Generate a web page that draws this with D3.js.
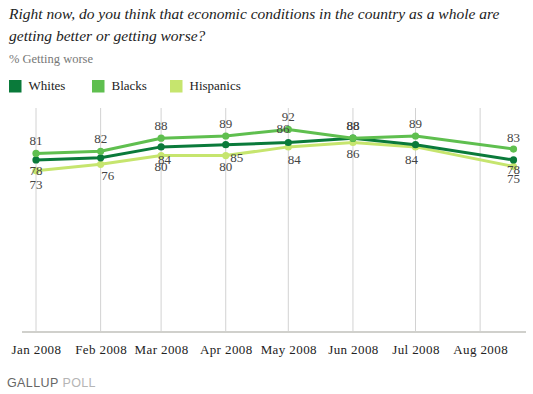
<!DOCTYPE html>
<html>
<head>
<meta charset="utf-8">
<script src="https://cdn.jsdelivr.net/npm/d3@7"></script>
<style>
  html, body { margin: 0; padding: 0; background: #fff; }
  svg { display: block; }
</style>
</head>
<body>
<div id="chart"></div>
<script>
// ---- data ----
const pollDates = ["2008-01-01", "2008-02-01", "2008-03-01", "2008-04-01", "2008-05-01", "2008-06-01", "2008-07-01", "2008-08-17"];
const whites    = [78, 79, 84, 85, 86, 88, 85, 78];
const blacks    = [81, 82, 88, 89, 92, 88, 89, 83];
const hispanics = [73, 76, 80, 80, 84, 86, 84, 75];
const seriesNames = ["Whites", "Blacks", "Hispanics"];
const tickMonths = ["2008-01-01", "2008-02-01", "2008-03-01", "2008-04-01", "2008-05-01", "2008-06-01", "2008-07-01", "2008-08-01"];
const titleLines = ["Right now, do you think that economic conditions in the country as a whole are", "getting better or getting worse?"];
const subtitle = "% Getting worse";

// ---- layout / style (not data) ----
const W = 533, H = 394;
const colors = { Whites: "#0a7a3a", Blacks: "#5fbf4f", Hispanics: "#c6e56e" };
// label placement per point: [dx, dy] relative to the point, null = label not shown
const labelPlacement = {
  Blacks:    [[0,-8],[0,-8],[0,-8],[0,-8],[0,-8],[0,-8],[0,-8],[0,-7]],
  Whites:    [[0,15],null,[3.5,17.4],[11,17],[-5.3,-9.2],[0,-8],null,[0,14]],
  Hispanics: [[0,18],[7,15.7],[0,15],[0,15],[6,17.4],[0,15.8],[-4,17],[0,16.8]]
};

const parse = d3.timeParse("%Y-%m-%d");
const dates = pollDates.map(parse);
const ticks = tickMonths.map(parse);
const values = { Whites: whites, Blacks: blacks, Hispanics: hispanics };

const svg = d3.select("#chart").append("svg").attr("width", W).attr("height", H);
svg.append("rect").attr("width", W).attr("height", H).attr("fill", "#fff");

const x = d3.scaleTime().domain([dates[0], dates[dates.length - 1]]).range([36, 513.5]);
const y = d3.scaleLinear().domain([0, 100]).range([330, 112]);
const baseY = 332;

// title (first line fitted to the reference width of ~487px)
const title = svg.append("text")
  .attr("font-family", "'Liberation Serif', 'Times New Roman', serif")
  .attr("font-style", "italic").attr("font-size", 15.5).attr("fill", "#222");
const tspans = titleLines.map((t, i) => title.append("tspan").attr("x", 9).attr("y", 18.5 + i * 22).text(t));
const w0 = tspans[0].node().getComputedTextLength();
const ls = Math.max(0, Math.min(0.6, (487 - w0) / (titleLines[0].length - 1)));
title.attr("letter-spacing", ls);

svg.append("text").attr("x", 9).attr("y", 63.3)
  .attr("font-family", "'Liberation Serif', serif").attr("font-size", 12.5).attr("fill", "#777")
  .text(subtitle);

// legend
const legendX = [9, 92, 170];
seriesNames.forEach((name, i) => {
  const g = svg.append("g").attr("transform", `translate(${legendX[i]},80)`);
  g.append("rect").attr("width", 12.5).attr("height", 12.5).attr("fill", colors[name]);
  g.append("text").attr("x", 19.5).attr("y", 9.5)
    .attr("font-family", "'Liberation Serif', serif").attr("font-size", 13).attr("fill", "#222")
    .text(name);
});

// gridlines
svg.append("g").selectAll("line").data(ticks).join("line")
  .attr("x1", d => x(d)).attr("x2", d => x(d))
  .attr("y1", 108).attr("y2", baseY)
  .attr("stroke", "#d2d2d2").attr("stroke-width", 1);

// baseline
svg.append("line").attr("x1", 22).attr("x2", 526).attr("y1", baseY).attr("y2", baseY)
  .attr("stroke", "#d0d0cc").attr("stroke-width", 2);

// x axis labels
const axis = d3.axisBottom(x).tickValues(ticks).tickFormat(d3.timeFormat("%b %Y")).tickSize(0).tickPadding(13);
const ax = svg.append("g").attr("transform", `translate(0,${baseY})`).call(axis);
ax.select(".domain").remove();
ax.attr("font-family", "'Liberation Serif', serif").attr("font-size", 13);
ax.selectAll("text").attr("letter-spacing", 0.4).attr("fill", "#222");

// lines
const line = d3.line().x((d, i) => x(dates[i])).y(d => y(d));
const drawOrder = ["Hispanics", "Whites", "Blacks"];
drawOrder.forEach(name => {
  const g = svg.append("g");
  g.append("path").datum(values[name]).attr("d", line)
    .attr("fill", "none").attr("stroke", colors[name]).attr("stroke-width", 3)
    .attr("stroke-linejoin", "round");
  g.selectAll("circle").data(values[name]).join("circle")
    .attr("cx", (d, i) => x(dates[i])).attr("cy", d => y(d)).attr("r", 3.6)
    .attr("fill", colors[name]);
});

// data labels
drawOrder.forEach(name => {
  svg.append("g").selectAll("text")
    .data(values[name].map((v, i) => ({ v, i, p: labelPlacement[name][i] })).filter(d => d.p))
    .join("text")
    .attr("x", d => x(dates[d.i]) + d.p[0])
    .attr("y", d => y(d.v) + d.p[1])
    .attr("text-anchor", "middle")
    .attr("font-family", "'Liberation Serif', serif").attr("font-size", 13).attr("fill", "#444")
    .text(d => d.v);
});

// footer
const foot = svg.append("text").attr("x", 7).attr("y", 387.3)
  .attr("font-family", "'Liberation Sans', Arial, sans-serif").attr("font-size", 12.5).attr("letter-spacing", 0.4);
foot.append("tspan").attr("fill", "#666").text("GALLUP");
foot.append("tspan").attr("fill", "#b5b5b5").text(" POLL");
</script>
</body>
</html>
